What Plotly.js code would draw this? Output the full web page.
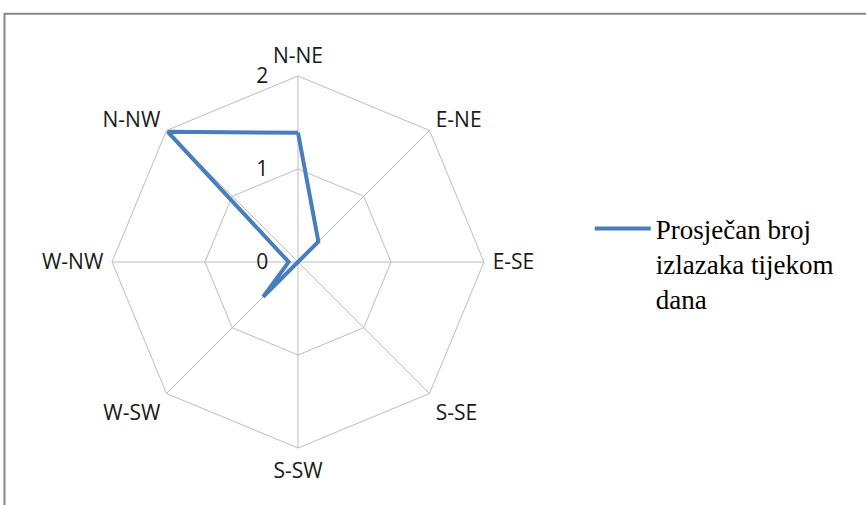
<!DOCTYPE html>
<html>
<head>
<meta charset="utf-8">
<script src="https://cdn.plot.ly/plotly-3.0.1.min.js"></script>
<style>html,body{margin:0;padding:0;background:#fff;}#chart{width:866px;height:505px;}</style>
</head>
<body>
<div id="chart"></div>
<script>
var directions = ["N-NE", "E-NE", "E-SE", "S-SE", "S-SW", "W-SW", "W-NW", "N-NW"];
var values = [1.39, 0.31, 0.0, 0.0, 0.0, 0.53, 0.1, 1.98];
var seriesName = "Prosječan broj<br>izlazaka tijekom<br>dana";
var radialTicks = [0, 1, 2];

var trace = {
  type: "scatterpolar",
  mode: "lines",
  r: values.concat([values[0]]),
  theta: directions.concat([directions[0]]),
  name: seriesName,
  line: {color: "#4a7ebb", width: 4},
  showlegend: true
};

var layout = {
  width: 866, height: 505,
  margin: {l: 0, r: 0, t: 0, b: 0},
  paper_bgcolor: "#ffffff",
  font: {family: "Open Sans", size: 21, color: "#1a1a1a"},
  showlegend: true,
  legend: {
    x: 0.681, y: 0.595, xanchor: "left", yanchor: "top",
    font: {family: "Liberation Serif", size: 27, color: "#000"},
    valign: "top", itemwidth: 56, bgcolor: "rgba(0,0,0,0)"
  },
  polar: {
    domain: {x: [0.1293, 0.5589], y: [0.1129, 0.8495]},
    bgcolor: "#ffffff",
    gridshape: "linear",
    radialaxis: {
      range: [0, 2], tickvals: radialTicks, ticktext: radialTicks.map(String),
      angle: 90, side: "counterclockwise", showline: false,
      ticks: "outside", ticklen: 22, tickcolor: "rgba(0,0,0,0)", tickangle: 90,
      gridcolor: "#bdbdbd", gridwidth: 1,
      tickfont: {family: "Open Sans", size: 21, color: "#1a1a1a"}
    },
    angularaxis: {
      rotation: 90, direction: "clockwise",
      showline: true, linecolor: "#bdbdbd", linewidth: 1,
      gridcolor: "#bdbdbd", gridwidth: 1,
      ticks: "outside", ticklen: 4, tickcolor: "rgba(0,0,0,0)",
      tickfont: {family: "Open Sans", size: 21, color: "#1a1a1a"}
    }
  },
  shapes: [{
    type: "rect", xref: "paper", yref: "paper",
    x0: 0.0052, x1: 1.05, y0: -0.05, y1: 0.973,
    line: {color: "#888888", width: 2}, fillcolor: "rgba(0,0,0,0)"
  }]
};

Plotly.newPlot("chart", [trace], layout, {displayModeBar: false, staticPlot: true});
</script>
</body>
</html>
